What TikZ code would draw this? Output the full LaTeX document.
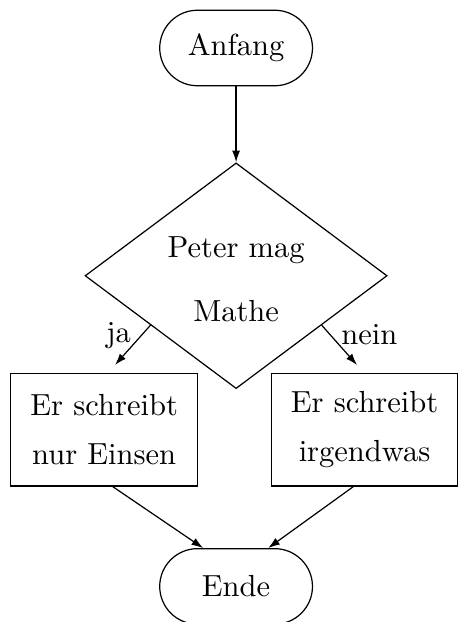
\documentclass[tikz,border=0pt]{standalone}
\usetikzlibrary{shapes.geometric, arrows.meta, positioning}

\begin{document}
\begin{tikzpicture}[
        terminal/.style={draw, rectangle, rounded corners=0.435cm, minimum width=1.76cm, minimum height=0.87cm},
        entscheidung/.style={draw, diamond, aspect=1.34, minimum width=3.48cm, minimum height=2.6cm, align=center, inner sep=0pt},
        anweisung/.style={draw, rectangle, minimum width=2.15cm, minimum height=1.3cm, align=center},
        pfeil/.style={-{Latex[length=3.8pt, width=2.6pt]}},
        node distance=0.875cm
    ]
        \useasboundingbox (0,0) rectangle (5.288,-7.166);

        \node[terminal] (anfang) at (2.72,-0.553) {Anfang};
        \node[entscheidung, below=of anfang] (mathe) {\\[-3pt]Peter mag\\[9pt] Mathe};
        \node[anweisung] (einsen)    at (1.20,-4.95) {Er schreibt\\[4pt] nur Einsen};
        \node[anweisung] (irgendwas) at (4.20,-4.95) {Er schreibt\\[4pt] irgendwas};
        \node[terminal, below=1.83cm of mathe] (ende) {Ende};

        % freie Pfeilenden der beiden Zweige
        \coordinate (ja)   at (1.325,-4.205);
        \coordinate (nein) at (4.113,-4.205);

        \draw[pfeil] (anfang) -- (mathe);
        \draw[pfeil] (mathe.210) -- node[pos=0.25, left]{ja} (ja);
        \draw[pfeil] (mathe.330) -- node[pos=0.25, right]{nein} (nein);
        \draw[pfeil] ([xshift=0.1cm]einsen.south)     -- ([xshift=-0.38cm]ende.north);
        \draw[pfeil] ([xshift=-0.13cm]irgendwas.south) -- ([xshift=0.37cm]ende.north);
    \end{tikzpicture}
\end{document}
